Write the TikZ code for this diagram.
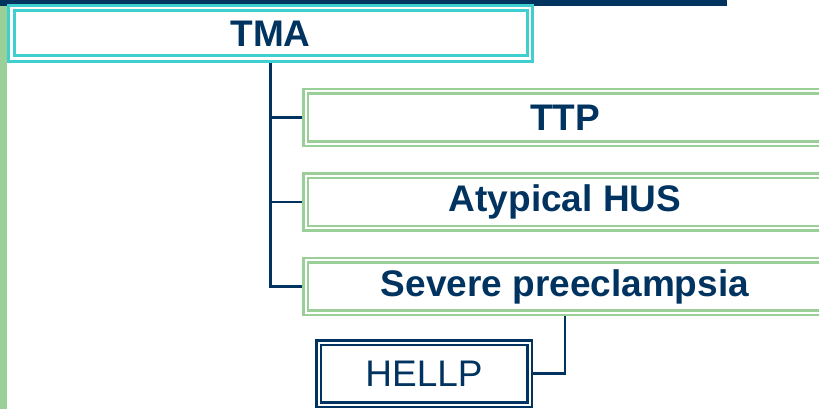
\documentclass[tikz,border=0pt]{standalone}
\usepackage{fontspec}
\setmainfont{Liberation Sans}
\usetikzlibrary{positioning,backgrounds}
\definecolor{navy}{HTML}{00335F}
\definecolor{tmateal}{HTML}{40CFCF}
\definecolor{dxgreen}{HTML}{9ACF98}
\begin{document}
\begin{tikzpicture}[x=1pt,y=-1pt,node distance=32pt,
	tmabox/.style={draw=tmateal,double=white,line width=3pt,double distance=2.5pt,
		minimum width=518.5pt,minimum height=50.5pt,inner sep=0pt,outer sep=0pt,
		text=navy,font=\fontsize{37}{40}\selectfont\bfseries},
	dxbox/.style={draw=dxgreen,double=white,line width=2.5pt,double distance=2pt,
		minimum width=519pt,minimum height=52.5pt,inner sep=0pt,outer sep=0pt,
		text=navy,font=\fontsize{37}{40}\selectfont\bfseries},
	hellpbox/.style={draw=navy,double=white,line width=2.5pt,double distance=2pt,
		minimum width=211pt,minimum height=62pt,inner sep=0pt,outer sep=0pt,
		text=navy,font=\fontsize{37}{40}\selectfont},
	link/.style={draw=navy,line width=2.5pt}]
	\useasboundingbox (0,0) rectangle (819,409);
	% frame bars
	\fill[navy] (0,0) rectangle (727,6);
	\fill[dxgreen] (0,6) rectangle (7,409);
		\node[tmabox] (tma) at (270.5,33.5) {TMA};
		\node[dxbox] (ttp) at (565,117.5) {TTP};
			\node[dxbox, below=of ttp] (hus) {Atypical HUS};
			\node[dxbox, below=of hus] (sp) {Severe preeclampsia};
		\node[hellpbox] (hellp) at (424,373.5) {HELLP};
	\begin{scope}[on background layer]
		\foreach \to in {ttp,hus,sp}
			\draw[link] (tma.south) |- (\to.west);
		\draw[link] (sp.south) |- (hellp.east);
	\end{scope}
\end{tikzpicture}
\end{document}
